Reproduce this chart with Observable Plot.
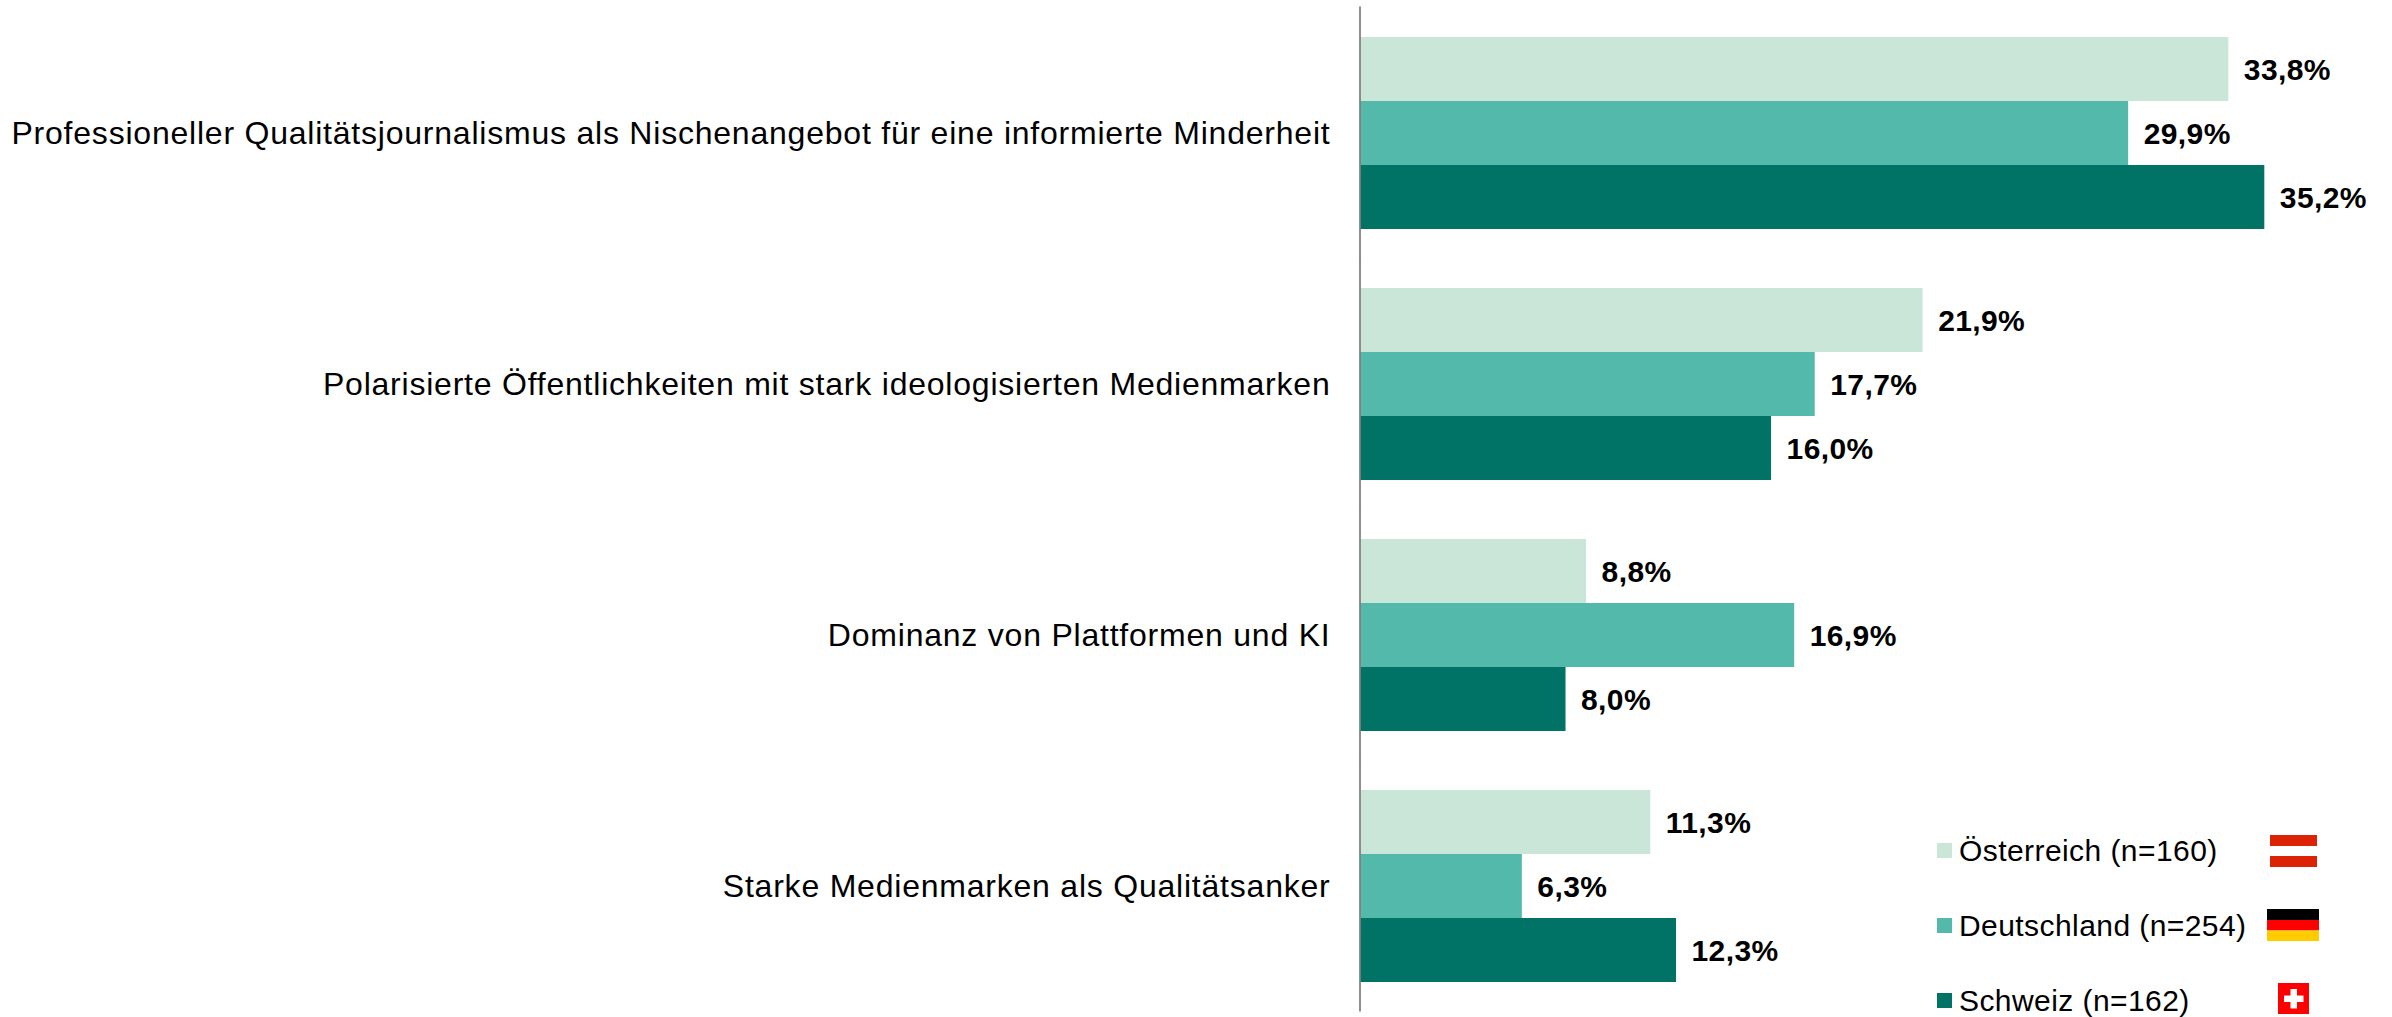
<!DOCTYPE html>
<html lang="de">
<head>
<meta charset="utf-8">
<script src="https://cdn.jsdelivr.net/npm/d3@7"></script>
<script src="https://cdn.jsdelivr.net/npm/@observablehq/plot@0.6"></script>
<style>
  html, body { margin: 0; padding: 0; background: #fff; }
  #wrap { position: relative; width: 2392px; height: 1017px; overflow: hidden; font-family: "Liberation Sans", Arial, sans-serif; }
  #wrap > svg { position: absolute; left: 0; top: 0; }
  #wrap g[aria-label="fy-axis tick label"] { letter-spacing: .78px; }
  #wrap g[aria-label="text"] { letter-spacing: .4px; }
  .lg { position: absolute; left: 1937px; display: flex; align-items: center; height: 30px; font-size: 30px; color: #000; white-space: nowrap; letter-spacing: .43px; }
  .lg i { display: block; width: 15px; height: 15px; margin-right: 7px; }
  .flag { position: absolute; }
</style>
</head>
<body>
<div id="wrap"></div>
<script>
const categories = [
  "Professioneller Qualitätsjournalismus als Nischenangebot für eine informierte Minderheit",
  "Polarisierte Öffentlichkeiten mit stark ideologisierten Medienmarken",
  "Dominanz von Plattformen und KI",
  "Starke Medienmarken als Qualitätsanker"
];
const series = ["Österreich (n=160)", "Deutschland (n=254)", "Schweiz (n=162)"];
const colors = ["#CAE6D9", "#52B9AB", "#007366"];
const oesterreich = [33.8, 21.9, 8.8, 11.3];
const deutschland = [29.9, 17.7, 16.9, 6.3];
const schweiz = [35.2, 16.0, 8.0, 12.3];

const rows = [oesterreich, deutschland, schweiz].flatMap((vals, s) =>
  vals.map((value, c) => ({category: categories[c], series: series[s], value}))
);
const fmt = d3.formatLocale({decimal: ",", thousands: ".", grouping: [3], currency: ["", "€"], percent: "%"}).format(".1f");

const chart = Plot.plot({
  width: 2392,
  height: 1017,
  marginLeft: 1360,
  marginRight: 0,
  marginTop: 6,
  marginBottom: 5,
  style: {background: "#fff", fontFamily: '"Liberation Sans", Arial, sans-serif'},
  x: {domain: [0, 40.17], axis: null},
  y: {domain: series, padding: 0, axis: null},
  fy: {domain: categories, paddingInner: 0.23, paddingOuter: 0.1165, label: null},
  color: {domain: series, range: colors},
  marks: [
    Plot.barX(rows, {x: "value", y: "series", fy: "category", fill: "series"}),
    Plot.text(rows, {
      x: "value", y: "series", fy: "category",
      text: d => fmt(d.value) + "%",
      textAnchor: "start", dx: 15, dy: 1, fontSize: 30, fontWeight: 700, fill: "#000"
    }),
    Plot.ruleX([0], {stroke: "#7f7f7f", strokeWidth: 1.75, dx: -0.5, insetTop: -29.5, insetBottom: -29.5}),
    Plot.axisFy({
      anchor: "left", tickSize: 0, tickPadding: 30, fontSize: 32, dy: 0.5, label: null,
      lineWidth: Infinity, textOverflow: null, fill: "#000"
    })
  ]
});
const wrap = document.getElementById("wrap");
wrap.appendChild(chart);

series.forEach((name, i) => {
  const row = document.createElement("div");
  row.className = "lg";
  row.style.top = (835.5 + i * 75) + "px";
  const sw = document.createElement("i");
  sw.style.background = colors[i];
  row.appendChild(sw);
  row.appendChild(document.createTextNode(name));
  wrap.appendChild(row);
});

function flag(left, top, w, h, inner) {
  const d = document.createElement("div");
  d.className = "flag";
  d.style.cssText = `left:${left}px;top:${top}px;width:${w}px;height:${h}px;`;
  d.innerHTML = `<svg width="${w}" height="${h}" viewBox="0 0 ${w} ${h}" style="display:block">${inner}</svg>`;
  wrap.appendChild(d);
}
flag(2270, 835, 47, 32, '<rect width="47" height="11" fill="#DC2306"/><rect y="21" width="47" height="11" fill="#DC2306"/>');
flag(2267, 909, 52, 32, '<rect width="52" height="11" fill="#000"/><rect y="11" width="52" height="10.5" fill="#FF0000"/><rect y="21.5" width="52" height="10.5" fill="#FFCC00"/>');
flag(2278, 983, 31, 31, '<rect width="31" height="31" fill="#FF0000"/><rect x="12.5" y="6" width="6.5" height="19.5" fill="#fff"/><rect x="6" y="12.5" width="19.5" height="6.5" fill="#fff"/>');
</script>
</body>
</html>
